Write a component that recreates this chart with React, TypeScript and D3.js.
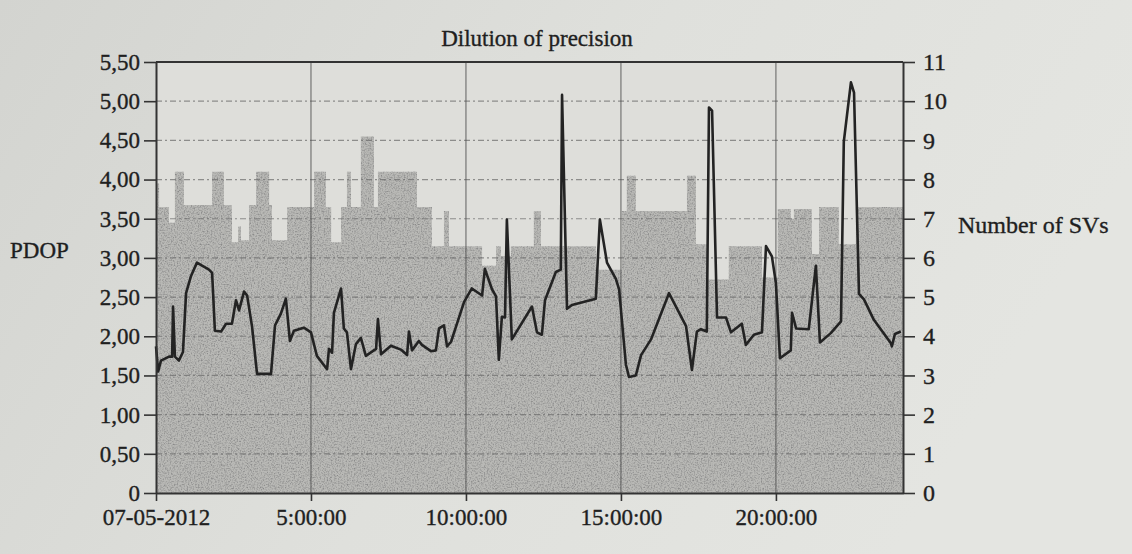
import React, { useEffect, useRef } from 'react'
import * as d3 from 'd3'

// PDOP trace (hours after 07-05-2012 00:00)
const pdopHours = [
  0, 0.07, 0.16, 0.42, 0.52, 0.55, 0.61, 0.74, 0.87, 0.97,
  1.13, 1.32, 1.71, 1.81, 1.9, 2.1, 2.26, 2.45, 2.58, 2.68,
  2.84, 2.94, 3.1, 3.26, 3.71, 3.84, 4.03, 4.19, 4.32, 4.45,
  4.77, 5.0, 5.19, 5.52, 5.58, 5.68, 5.74, 5.97, 6.06, 6.16,
  6.29, 6.45, 6.61, 6.77, 7.1, 7.16, 7.26, 7.58, 7.9, 8.1,
  8.16, 8.26, 8.48, 8.58, 8.87, 9.03, 9.13, 9.29, 9.39, 9.52,
  9.94, 10.19, 10.52, 10.61, 10.84, 10.97, 11.06, 11.16, 11.26, 11.32,
  11.48, 12.13, 12.29, 12.45, 12.55, 12.9, 13.06, 13.1, 13.26, 13.42,
  14.19, 14.32, 14.55, 14.84, 14.94, 15.16, 15.26, 15.48, 15.65, 15.97,
  16.55, 17.1, 17.29, 17.45, 17.58, 17.77, 17.84, 17.94, 18.1, 18.39,
  18.55, 18.9, 19.03, 19.29, 19.55, 19.68, 19.87, 20.0, 20.13, 20.48,
  20.52, 20.65, 21.06, 21.29, 21.42, 21.77, 22.1, 22.19, 22.42, 22.52,
  22.68, 22.84, 23.16, 23.71, 23.74, 23.84, 24.03
]
const pdopValues = [
  1.87, 1.55, 1.69, 1.74, 1.74, 2.38, 1.74, 1.69, 1.8, 2.55,
  2.77, 2.94, 2.85, 2.81, 2.07, 2.06, 2.16, 2.16, 2.46, 2.33,
  2.57, 2.52, 2.12, 1.52, 1.52, 2.14, 2.29, 2.48, 1.94, 2.07,
  2.11, 2.05, 1.75, 1.58, 1.84, 1.79, 2.3, 2.61, 2.1, 2.05,
  1.58, 1.9, 1.98, 1.75, 1.84, 2.22, 1.77, 1.88, 1.83, 1.76,
  2.06, 1.82, 1.94, 1.89, 1.81, 1.82, 2.1, 2.14, 1.87, 1.93,
  2.44, 2.61, 2.52, 2.86, 2.6, 2.51, 1.7, 2.25, 2.24, 3.49,
  1.96, 2.38, 2.05, 2.02, 2.46, 2.82, 2.85, 5.08, 2.35, 2.4,
  2.48, 3.49, 2.94, 2.73, 2.6, 1.64, 1.48, 1.5, 1.76, 1.96,
  2.55, 2.13, 1.57, 2.06, 2.09, 2.06, 4.92, 4.88, 2.24, 2.24,
  2.05, 2.16, 1.89, 2.02, 2.05, 3.15, 3.02, 2.68, 1.72, 1.82,
  2.3, 2.1, 2.09, 2.9, 1.92, 2.04, 2.19, 4.48, 5.24, 5.11,
  2.54, 2.47, 2.21, 1.91, 1.87, 2.03, 2.06
]

// number of satellites, step starts (hours) and level
const svHours = [
  0, 0.1, 0.42, 0.61, 0.9, 1.81, 2.19, 2.45, 2.65, 2.74,
  3.0, 3.23, 3.65, 3.74, 4.23, 5.1, 5.48, 5.65, 5.97, 6.16,
  6.29, 6.61, 7.03, 7.16, 8.42, 8.9, 9.29, 9.45, 10.52, 10.97,
  11.13, 11.45, 12.19, 12.42, 14.19, 15.03, 15.19, 15.48, 17.13, 17.42,
  17.77, 18.48, 19.55, 20.06, 20.48, 20.58, 21.16, 21.39, 22.03, 22.58
]
const svCounts = [
  7.9, 7.3, 6.9, 8.2, 7.35, 8.2, 7.35, 6.4, 6.8, 6.45,
  7.35, 8.2, 7.35, 6.45, 7.3, 8.2, 7.3, 6.4, 7.3, 8.2,
  7.3, 9.1, 7.3, 8.2, 7.3, 6.3, 7.2, 6.3, 5.8, 6.3,
  6.05, 6.3, 7.2, 6.3, 5.7, 7.2, 8.1, 7.2, 8.1, 6.35,
  5.45, 6.3, 5.5, 7.25, 7.0, 7.25, 6.1, 7.3, 6.35, 7.3
]

const endHour = 24.1
const pdopTicks = [0, 0.5, 1, 1.5, 2, 2.5, 3, 3.5, 4, 4.5, 5, 5.5]
const svTicks = [0, 1, 2, 3, 4, 5, 6, 7, 8, 9, 10, 11]
const timeTicks = [0, 5, 10, 15, 20]
const timeLabels = ['07-05-2012', '5:00:00', '10:00:00', '15:00:00', '20:00:00']

const FONT = '"Liberation Serif", "DejaVu Serif", serif'
const INK = '#1f1f1f'

function DopChart() {
  const ref = useRef<SVGSVGElement>(null)

  useEffect(() => {
    const width = 1132
    const height = 554
    const margin = { left: 156, right: 229, top: 62, bottom: 61 }
    const svg = d3.select(ref.current)
    svg.selectAll('*').remove()

    const defs = svg.append('defs')
    const bg = defs.append('linearGradient').attr('id', 'paper')
      .attr('x1', 0).attr('x2', 1).attr('y1', 0).attr('y2', 0.3)
    bg.append('stop').attr('offset', '0%').attr('stop-color', '#d3d4d0')
    bg.append('stop').attr('offset', '55%').attr('stop-color', '#dfe0dc')
    bg.append('stop').attr('offset', '100%').attr('stop-color', '#e4e5e1')

    // speckled print texture for the satellites area
    const grain = defs.append('filter').attr('id', 'grain')
      .attr('x', 0).attr('y', 0).attr('width', '100%').attr('height', '100%')
    grain.append('feTurbulence').attr('type', 'fractalNoise')
      .attr('baseFrequency', 0.7).attr('numOctaves', 2).attr('seed', 4).attr('result', 'noise')
    grain.append('feColorMatrix').attr('in', 'noise').attr('type', 'matrix')
      .attr('values', '0 0 0 0 0.25  0 0 0 0 0.25  0 0 0 0 0.25  0 0 0 2.4 -1.0')
      .attr('result', 'dots')
    grain.append('feComposite').attr('in', 'dots').attr('in2', 'SourceGraphic')
      .attr('operator', 'in').attr('result', 'clipped')
    const merge = grain.append('feMerge')
    merge.append('feMergeNode').attr('in', 'SourceGraphic')
    merge.append('feMergeNode').attr('in', 'clipped')

    svg.append('rect').attr('width', width).attr('height', height).attr('fill', 'url(#paper)')

    const x = d3.scaleLinear()
      .domain([0, endHour])
      .range([margin.left, width - margin.right])
    const yPdop = d3.scaleLinear()
      .domain([0, 5.5])
      .range([height - margin.bottom, margin.top])
    const ySv = d3.scaleLinear()
      .domain([0, 11])
      .range([height - margin.bottom, margin.top])

    // plot background
    svg.append('rect')
      .attr('x', x(0)).attr('y', yPdop(5.5))
      .attr('width', x(endHour) - x(0)).attr('height', yPdop(0) - yPdop(5.5))
      .attr('fill', '#dededa')

    // satellites as stepped area
    const svData = svHours.map((h, i) => ({ h, v: svCounts[i] }))
    svData.push({ h: endHour, v: svCounts[svCounts.length - 1] })
    const area = d3.area<{ h: number, v: number }>()
      .x(d => x(d.h))
      .y0(ySv(0))
      .y1(d => ySv(d.v))
      .curve(d3.curveStepAfter)
    svg.append('path')
      .datum(svData)
      .attr('d', area)
      .attr('fill', '#b9b9b6')
      .attr('filter', 'url(#grain)')

    // grid
    svg.append('g')
      .selectAll('line')
      .data(pdopTicks.filter(t => t > 0 && t < 5.5))
      .join('line')
      .attr('x1', x(0)).attr('x2', x(endHour))
      .attr('y1', d => yPdop(d)).attr('y2', d => yPdop(d))
      .attr('stroke', '#6b6b6b')
      .attr('stroke-width', 1.2)
      .attr('stroke-dasharray', '6 3 2 3')
      .attr('opacity', 0.7)
    svg.append('g')
      .selectAll('line')
      .data(timeTicks.filter(t => t > 0))
      .join('line')
      .attr('x1', d => x(d)).attr('x2', d => x(d))
      .attr('y1', yPdop(5.5)).attr('y2', yPdop(0))
      .attr('stroke', '#4f4f4f')
      .attr('stroke-width', 1.1)
      .attr('opacity', 0.8)

    // PDOP line
    const line = d3.line<number>()
      .x((d, i) => x(pdopHours[i]))
      .y(d => yPdop(d))
    svg.append('path')
      .datum(pdopValues)
      .attr('d', line)
      .attr('fill', 'none')
      .attr('stroke', '#232323')
      .attr('stroke-width', 2.6)
      .attr('stroke-linejoin', 'round')

    // frame top
    svg.append('line')
      .attr('x1', x(0)).attr('x2', x(endHour))
      .attr('y1', yPdop(5.5)).attr('y2', yPdop(5.5))
      .attr('stroke', '#333').attr('stroke-width', 2)

    const styleText = (sel, size) => sel
      .attr('fill', INK)
      .attr('stroke', INK)
      .attr('stroke-width', 0.35)
      .style('font-family', FONT)
      .style('font-size', `${size}px`)

    const styleAxis = (g, size) => {
      g.select('.domain').attr('stroke', '#333').attr('stroke-width', 2)
      g.selectAll('.tick line').attr('stroke', '#333').attr('stroke-width', 1.6)
      styleText(g.selectAll('.tick text'), size)
    }

    const fmt = d3.format('.2f')
    svg.append('g')
      .attr('transform', `translate(${x(0)},0)`)
      .call(d3.axisLeft(yPdop).tickValues(pdopTicks).tickSize(12).tickSizeOuter(0).tickPadding(4)
        .tickFormat(d => (+d === 0 ? '0' : fmt(+d).replace('.', ','))))
      .call(g => styleAxis(g, 23))

    svg.append('g')
      .attr('transform', `translate(${x(endHour)},0)`)
      .call(d3.axisRight(ySv).tickValues(svTicks).tickSize(12).tickSizeOuter(0).tickPadding(8)
        .tickFormat(d => String(d)))
      .call(g => styleAxis(g, 24))

    svg.append('g')
      .attr('transform', `translate(0,${yPdop(0)})`)
      .call(d3.axisBottom(x).tickValues(timeTicks).tickSize(8).tickSizeOuter(0).tickPadding(8)
        .tickFormat((d, i) => timeLabels[i]))
      .call(g => styleAxis(g, 23))

    // titles
    svg.append('text')
      .attr('x', 537).attr('y', 46)
      .attr('text-anchor', 'middle')
      .call(s => styleText(s, 23))
      .text('Dilution of precision')
    svg.append('text')
      .attr('x', 10).attr('y', 258)
      .call(s => styleText(s, 23))
      .text('PDOP')
    svg.append('text')
      .attr('x', 958).attr('y', 233)
      .call(s => styleText(s, 24))
      .text('Number of SVs')
  }, [])

  return (
    <svg ref={ref} width={1132} height={554}
      style={{ position: 'absolute', left: 0, top: 0, display: 'block' }} />
  )
}

export default function App() {
  return <DopChart />
}
